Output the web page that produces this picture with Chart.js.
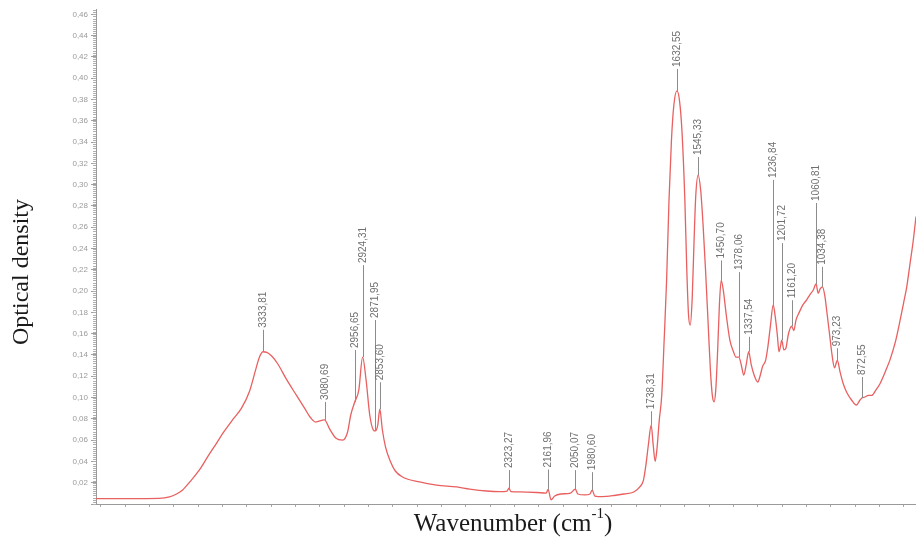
<!DOCTYPE html>
<html>
<head>
<meta charset="utf-8">
<script src="https://cdn.jsdelivr.net/npm/chart.js@4"></script>
<style>
  body { margin: 0; background: #fff; }
  canvas { display: block; }
</style>
</head>
<body>
<canvas id="spectrum" width="916" height="540"></canvas>
<script>
// spectrum, high wavenumber first
const wavenumber = [
    4020, 3880, 3760, 3718, 3689, 3665, 3628, 3595, 3562, 3525, 3492, 3459, 3422, 3389, 3364, 3350,
    3333.81, 3318, 3298, 3274, 3237, 3196, 3163, 3138, 3118, 3080.69, 3060, 3035, 3006, 2986, 2973,
    2956.65, 2940, 2924.31, 2910, 2895, 2880, 2871.95, 2862, 2853.60, 2843, 2830, 2810, 2790, 2760,
    2690, 2620, 2538, 2484, 2414, 2361, 2330, 2323.27, 2315, 2279, 2208, 2170, 2161.96, 2150, 2135,
    2110, 2070, 2050.07, 2040, 2010, 1990, 1980.60, 1970, 1940, 1890, 1850, 1810, 1785, 1770, 1760,
    1750, 1738.31, 1730, 1722, 1715, 1705, 1695, 1685, 1675, 1665, 1655, 1645, 1632.55, 1622, 1612,
    1600, 1592, 1585, 1578, 1570, 1562, 1555, 1545.33, 1535, 1525, 1515, 1505, 1495, 1487, 1480,
    1473, 1465, 1458, 1450.70, 1442, 1430, 1415, 1400, 1390, 1378.06, 1368, 1358, 1348, 1337.54,
    1327, 1315, 1300, 1290, 1280, 1268, 1258, 1248, 1236.84, 1228, 1220, 1213, 1207, 1201.72, 1193,
    1185, 1175, 1161.20, 1152, 1143, 1130, 1115, 1100, 1085, 1072, 1060.81, 1052, 1044, 1034.38,
    1025, 1015, 1005, 995, 985, 973.23, 962, 950, 935, 915, 895, 880, 872.55, 860, 845, 832, 815,
    798, 775, 757, 735, 715, 700, 688, 675, 661, 650
];
const opticalDensity = [
    0.005, 0.005, 0.0052, 0.0066, 0.0094, 0.013, 0.0225, 0.032, 0.044, 0.057, 0.0686, 0.079, 0.090, 0.106, 0.126, 0.137,
    0.143, 0.1425, 0.139, 0.132, 0.117, 0.102, 0.090, 0.081, 0.077, 0.079, 0.0705, 0.062, 0.060, 0.0676, 0.0836,
    0.0958, 0.107, 0.138, 0.1165, 0.0836, 0.0695, 0.0686, 0.074, 0.089, 0.0695, 0.0535, 0.040, 0.031, 0.0254,
    0.0207, 0.0178, 0.016, 0.014, 0.0122, 0.0117, 0.0122, 0.015, 0.0117, 0.0113, 0.0108, 0.0103, 0.0136, 0.004, 0.0075,
    0.0094, 0.0103, 0.014, 0.0094, 0.0085, 0.0094, 0.013, 0.0075, 0.007, 0.008, 0.0094, 0.0113, 0.016, 0.0225, 0.0366,
    0.0554, 0.074, 0.0554, 0.040, 0.0507, 0.079, 0.102, 0.154, 0.210, 0.286, 0.342, 0.375, 0.388, 0.379, 0.351,
    0.286, 0.220, 0.178, 0.168, 0.192, 0.248, 0.290, 0.309, 0.295, 0.262, 0.220, 0.173, 0.126, 0.102, 0.096,
    0.107, 0.145, 0.187, 0.210, 0.201, 0.178, 0.154, 0.143, 0.138, 0.138, 0.1306, 0.121, 0.1306, 0.143,
    0.1306, 0.121, 0.1146, 0.121, 0.1296, 0.135, 0.149, 0.168, 0.187, 0.175, 0.159, 0.143, 0.148, 0.154, 0.1447,
    0.146, 0.159, 0.167, 0.163, 0.173, 0.180, 0.187, 0.1916, 0.197, 0.201, 0.2067, 0.198, 0.202, 0.204,
    0.196, 0.178, 0.159, 0.140, 0.128, 0.135, 0.124, 0.1137, 0.105, 0.0977, 0.093, 0.0977, 0.0996, 0.1005, 0.102, 0.102, 0.107,
    0.113, 0.125, 0.1354, 0.152, 0.173, 0.190, 0.204, 0.225, 0.248, 0.270
];

// peak picks written on the spectrum
const peakWavenumbers = [3333.81, 3080.69, 2956.65, 2924.31, 2871.95, 2853.60, 2323.27, 2161.96, 2050.07, 1980.60,
    1738.31, 1632.55, 1545.33, 1450.70, 1378.06, 1337.54, 1236.84, 1201.72, 1161.20, 1060.81, 1034.38, 973.23, 872.55];
const peakLabels = ['3333,81', '3080,69', '2956,65', '2924,31', '2871,95', '2853,60', '2323,27', '2161,96', '2050,07', '1980,60',
    '1738,31', '1632,55', '1545,33', '1450,70', '1378,06', '1337,54', '1236,84', '1201,72', '1161,20', '1060,81', '1034,38', '973,23', '872,55'];
// stem length in px above each peak (layout only)
const stemLengths = [22, 18, 52, 92, 111, 27, 18, 20, 19, 18, 14, 22, 18, 20, 85, 15, 125, 97, 26, 81, 20, 12, 21];

function valueAt(wn) {
    for (let i = 0; i < wavenumber.length - 1; i++) {
        const a = wavenumber[i], b = wavenumber[i + 1];
        if (wn <= a && wn >= b) {
            const t = (a - wn) / (a - b);
            return opticalDensity[i] + t * (opticalDensity[i + 1] - opticalDensity[i]);
        }
    }
    return 0;
}

const peakMarks = {
    id: 'peakMarks',
    afterDraw(chart) {
        const { ctx, scales: { x, y }, chartArea } = chart;
        ctx.save();

        // minor ticks on the y axis
        ctx.strokeStyle = '#b0b0b0';
        ctx.lineWidth = 1;
        ctx.beginPath();
        for (let v = 0; v <= 0.465; v += 0.002) {
            const py = Math.round(y.getPixelForValue(v)) + 0.5;
            ctx.moveTo(chartArea.left - 3, py);
            ctx.lineTo(chartArea.left, py);
        }
        ctx.stroke();

        // peak stems and labels
        ctx.strokeStyle = '#8c8c8c';
        ctx.fillStyle = '#707070';
        ctx.font = '10px "Liberation Sans", Arial, sans-serif';
        ctx.textAlign = 'left';
        ctx.textBaseline = 'middle';
        peakWavenumbers.forEach((wn, i) => {
            const px = Math.round(x.getPixelForValue(wn)) + 0.5;
            const py = y.getPixelForValue(valueAt(wn));
            const top = py - stemLengths[i];
            ctx.beginPath();
            ctx.moveTo(px, py);
            ctx.lineTo(px, top);
            ctx.stroke();
            ctx.save();
            ctx.translate(px, top - 2);
            ctx.rotate(-Math.PI / 2);
            ctx.fillText(peakLabels[i], 0, 0);
            ctx.restore();
        });

        // axis titles
        ctx.fillStyle = '#1a1a1a';
        ctx.font = '24px "Liberation Serif", "Times New Roman", serif';
        ctx.textAlign = 'center';
        ctx.save();
        ctx.translate(22, 272);
        ctx.rotate(-Math.PI / 2);
        ctx.fillText('Optical density', 0, 0);
        ctx.restore();

        const big = '25px "Liberation Serif", "Times New Roman", serif';
        const small = '15px "Liberation Serif", "Times New Roman", serif';
        const main = 'Wavenumber (cm';
        const sup = '-1';
        const close = ')';
        ctx.font = big;
        const wMain = ctx.measureText(main).width;
        const wClose = ctx.measureText(close).width;
        ctx.font = small;
        const wSup = ctx.measureText(sup).width;
        let tx = 513 - (wMain + wSup + wClose) / 2;
        ctx.textAlign = 'left';
        ctx.font = big;
        ctx.fillText(main, tx, 524);
        tx += wMain;
        ctx.font = small;
        ctx.fillText(sup, tx, 514);
        tx += wSup;
        ctx.font = big;
        ctx.fillText(close, tx, 524);

        ctx.restore();
    }
};

const ctx = document.getElementById('spectrum').getContext('2d');
new Chart(ctx, {
    type: 'line',
    data: {
        datasets: [{
            data: wavenumber.map((wn, i) => ({ x: wn, y: opticalDensity[i] })),
            borderColor: 'rgb(232, 96, 96)',
            borderWidth: 1.3,
            pointRadius: 0,
            fill: false,
            cubicInterpolationMode: 'monotone'
        }]
    },
    options: {
        responsive: false,
        animation: false,
        devicePixelRatio: 1,
        layout: { padding: { top: 9, right: 0, left: 0, bottom: 0 } },
        plugins: {
            legend: { display: false },
            tooltip: { enabled: false }
        },
        scales: {
            x: {
                type: 'linear',
                reverse: true,
                min: 650,
                max: 4020,
                grid: { drawOnChartArea: false, tickLength: 3, tickColor: '#a8a8a8' },
                border: { color: '#9a9a9a' },
                ticks: { display: false, stepSize: 100, includeBounds: false },
                afterFit: scale => { scale.height = 36; }
            },
            y: {
                min: 0,
                max: 0.465,
                grid: { drawOnChartArea: false, tickLength: 5, tickColor: '#a0a0a0' },
                border: { color: '#9a9a9a' },
                ticks: {
                    stepSize: 0.02,
                    includeBounds: false,
                    autoSkip: false,
                    padding: 3,
                    color: '#9a9a9a',
                    font: { size: 8, family: '"Liberation Sans", Arial, sans-serif' },
                    callback: v => v < 0.001 ? '' : v.toFixed(2).replace('.', ',')
                },
                afterFit: scale => { scale.width = 96; }
            }
        }
    },
    plugins: [peakMarks]
});
</script>
</body>
</html>
